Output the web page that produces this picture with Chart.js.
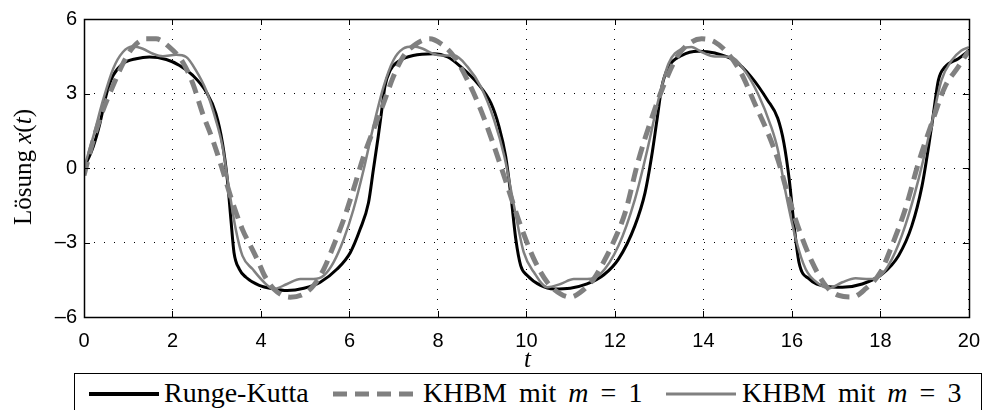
<!DOCTYPE html>
<html>
<head>
<meta charset="utf-8">
<script src="https://cdn.jsdelivr.net/npm/chart.js@4.4.1/dist/chart.umd.min.js"></script>
<style>
  html, body { margin: 0; padding: 0; background: #fff; overflow: hidden; }
  #wrap { position: relative; width: 992px; height: 410px; }
  #chart { position: absolute; left: 0; top: 0; }
  .serif { font-family: 'Liberation Serif', 'Times New Roman', serif; color: #000; white-space: nowrap; }
  #ytitle { position: absolute; left: 23px; top: 167px; font-size: 25px; transform: translate(-50%, -50%) rotate(-90deg); }
  #xtitle { position: absolute; left: 524px; top: 345px; font-size: 25px; font-style: italic; }
  #legend { position: absolute; left: 74px; top: 373px; width: 906px; height: 60px; border: 1.5px solid #000; background: #fff; }
  #legend svg { position: absolute; top: 12px; }
  #legend .lbl { position: absolute; top: 5px; font-size: 28px; line-height: 28px; }
  #legend .math { word-spacing: 5px; }
</style>
</head>
<body>
<div id="wrap">
  <canvas id="chart" width="992" height="410"></canvas>
  <div id="ytitle" class="serif">Lösung <i>x</i>(<i>t</i>)</div>
  <div id="xtitle" class="serif">t</div>
  <div id="legend" class="serif">
    <svg style="left:14px" width="70" height="16"><line x1="0" y1="8" x2="70" y2="8" stroke="#000" stroke-width="4"/></svg>
    <div class="lbl" style="left:89px">Runge-Kutta</div>
    <svg style="left:258px" width="86" height="16"><line x1="0" y1="8" x2="86" y2="8" stroke="#808080" stroke-width="5" stroke-dasharray="14 8"/></svg>
    <div class="lbl math" style="left:348px">KHBM mit <i>m</i> = 1</div>
    <svg style="left:591px" width="70" height="16"><line x1="0" y1="8" x2="70" y2="8" stroke="#808080" stroke-width="3"/></svg>
    <div class="lbl math" style="left:667px">KHBM mit <i>m</i> = 3</div>
  </div>
</div>
<script>
// tick values
const xTickValues = [0, 2, 4, 6, 8, 10, 12, 14, 16, 18, 20];
const yTickValues = [-6, -3, 0, 3, 6];

// Runge-Kutta reference solution
const rkTime = [0, 0.21, 0.36, 0.51, 0.66, 0.88, 1.18, 1.48, 1.86, 2.16, 2.46, 2.76, 2.98, 3.13, 3.24, 3.32, 3.39, 3.51, 3.66, 3.96,
  4.29, 4.59, 4.97, 5.34, 5.72, 6.02, 6.24, 6.43, 6.54, 6.65, 6.73, 6.80, 6.92, 7.14, 7.44, 7.89,
  8.22, 8.52, 8.90, 9.20, 9.38, 9.53, 9.65, 9.76, 9.87, 10.02, 10.32, 10.62, 10.99, 11.37, 11.75,
  12.08, 12.45, 12.68, 12.83, 12.95, 13.06, 13.21, 13.51, 13.88, 14.26, 14.70, 15.08, 15.45, 15.68,
  15.82, 15.94, 16.05, 16.16, 16.39, 16.76, 17.14, 17.59, 18.04, 18.41, 18.71, 18.94, 19.09, 19.20, 19.31, 19.46, 19.76, 20];
const rkValue = [0, 0.87, 1.8, 3.0, 3.73, 4.2, 4.4, 4.47, 4.37, 4.13, 3.73, 3.07, 2.2, 1.0, -0.47, -2.07, -3.4, -4.07, -4.4, -4.73,
  -4.87, -4.93, -4.84, -4.6, -4.07, -3.4, -2.47, -1.4, -0.07, 1.27, 2.33, 3.27, 3.93, 4.33, 4.53, 4.6,
  4.47, 4.07, 3.4, 2.6, 1.67, 0.47, -1.13, -2.87, -3.93, -4.33, -4.73, -4.87, -4.84, -4.67, -4.3,
  -3.67, -2.33, -1.0, 0.47, 1.93, 3.27, 4.07, 4.53, 4.7, 4.63, 4.33, 3.67, 2.73, 2.0,
  1.0, -0.47, -2.33, -3.8, -4.47, -4.76, -4.8, -4.67, -4.27, -3.53, -2.33, -0.73, 0.87, 2.2, 3.53, 4.07, 4.4, 4.73];

// harmonic balance, m = 1
const hb1Time = [0, 0.21, 0.43, 0.66, 0.88, 1.11, 1.41, 1.63, 1.93, 2.23, 2.46, 2.68, 2.91, 3.13, 3.36, 3.58, 3.81, 3.96,
  4.07, 4.29, 4.66, 4.97, 5.19, 5.42, 5.64, 5.87, 6.09, 6.32, 6.54, 6.77, 6.99, 7.21, 7.51, 7.81,
  8.07, 8.37, 8.67, 8.97, 9.27, 9.57, 9.87, 10.17, 10.47, 10.77, 10.99, 11.22, 11.52, 11.74,
  11.93, 12.23, 12.53, 12.83, 13.13, 13.43, 13.73, 13.96, 14.26, 14.56, 14.86, 15.16, 15.46, 15.69,
  15.94, 16.16, 16.46, 16.76, 17.06, 17.36, 17.66, 18.00, 18.26, 18.56, 18.86, 19.16, 19.46, 19.76, 20];
const hb1Value = [-0.3, 1.13, 2.33, 3.33, 4.2, 4.87, 5.2, 5.2, 4.87, 4.27, 3.4, 2.2, 1.13, -0.07, -1.4, -2.47, -3.3, -3.85,
  -4.3, -4.87, -5.2, -5.07, -4.73, -4.07, -3.13, -2.07, -0.87, 0.47, 1.53, 2.6, 3.67, 4.47, 5.0, 5.2,
  5.0, 4.47, 3.53, 2.33, 0.87, -0.73, -2.33, -3.67, -4.6, -5.07, -5.2, -5.0, -4.47, -3.8,
  -3.13, -1.8, 0.3, 2.0, 3.45, 4.55, 5.07, 5.2, 5.07, 4.6, 3.8, 2.6, 1.4, 0.3,
  -1.27, -2.47, -3.8, -4.73, -5.13, -5.2, -4.87, -4.2, -3.13, -1.67, 0.2, 1.8, 3.27, 4.07, 4.73];

// harmonic balance, m = 3
const hb3Time = [0, 0.21, 0.43, 0.66, 0.88, 1.11, 1.33, 1.56, 1.78, 2.08, 2.31, 2.53, 2.76, 2.98, 3.13, 3.28, 3.43, 3.58, 3.81,
  4.07, 4.29, 4.59, 4.89, 5.19, 5.42, 5.64, 5.87, 6.09, 6.32, 6.54, 6.77, 6.99, 7.21, 7.44, 7.66, 7.89,
  8.07, 8.37, 8.67, 8.97, 9.27, 9.50, 9.72, 9.94, 10.17, 10.47, 10.77, 11.07, 11.37, 11.67,
  12.08, 12.45, 12.75, 12.98, 13.21, 13.51, 13.73, 13.96, 14.26, 14.63, 14.93, 15.23, 15.53, 15.68,
  15.86, 16.09, 16.31, 16.61, 16.84, 17.14, 17.44, 17.74, 17.96, 18.26, 18.56, 18.86, 19.16, 19.38, 19.61, 19.83, 20];
const hb3Value = [0, 1.27, 2.73, 4.0, 4.67, 4.89, 4.8, 4.6, 4.5, 4.56, 4.47, 3.93, 3.13, 1.93, 0.87, -0.87, -2.47, -3.53, -4.07,
  -4.6, -4.87, -4.67, -4.47, -4.47, -4.33, -3.8, -2.87, -1.67, -0.07, 1.67, 3.27, 4.33, 4.8, 4.89, 4.8, 4.6,
  4.53, 4.53, 4.07, 3.27, 1.93, 0.47, -1.53, -3.4, -4.2, -4.8, -4.67, -4.47, -4.47, -4.27,
  -3.13, -1.27, 0.87, 2.73, 4.2, 4.8, 4.87, 4.67, 4.49, 4.47, 3.93, 3.0, 1.67, 0.75,
  -1.0, -2.87, -4.07, -4.67, -4.84, -4.6, -4.44, -4.47, -4.4, -3.67, -2.33, -0.47, 1.8, 3.53, 4.33, 4.73, 4.87];

const toPoints = (ts, vs) => ts.map((t, i) => ({ x: t, y: vs[i] }));

// Box around the axes plus inward tick marks on all four sides
const framePlugin = {
    id: 'frame',
    afterDraw(chart) {
        const { ctx, chartArea: a, scales } = chart;
        const len = 6;
        ctx.save();
        ctx.strokeStyle = '#000';
        ctx.lineWidth = 1;
        ctx.beginPath();
        scales.x.ticks.forEach(t => {
            const px = Math.round(scales.x.getPixelForValue(t.value)) + 0.5;
            ctx.moveTo(px, a.bottom); ctx.lineTo(px, a.bottom - len);
            ctx.moveTo(px, a.top); ctx.lineTo(px, a.top + len);
        });
        scales.y.ticks.forEach(t => {
            const py = Math.round(scales.y.getPixelForValue(t.value)) + 0.5;
            ctx.moveTo(a.left, py); ctx.lineTo(a.left + len, py);
            ctx.moveTo(a.right, py); ctx.lineTo(a.right - len, py);
        });
        ctx.stroke();
        ctx.lineWidth = 1.5;
        ctx.strokeRect(Math.round(a.left) + 0.5, Math.round(a.top) + 0.5,
            Math.round(a.right - a.left), Math.round(a.bottom - a.top));
        ctx.restore();
    }
};

const tickFont = { family: "'Liberation Sans', Arial, sans-serif", size: 20 };

new Chart(document.getElementById('chart'), {
    type: 'line',
    data: {
        datasets: [
            {
                label: 'Runge-Kutta',
                data: toPoints(rkTime, rkValue),
                borderColor: '#000',
                borderWidth: 3,
                order: 3
            },
            {
                label: 'KHBM mit m = 1',
                data: toPoints(hb1Time, hb1Value),
                borderColor: '#808080',
                borderWidth: 5,
                borderDash: [14, 8],
                order: 2
            },
            {
                label: 'KHBM mit m = 3',
                data: toPoints(hb3Time, hb3Value),
                borderColor: '#808080',
                borderWidth: 2.5,
                order: 1
            }
        ]
    },
    options: {
        responsive: false,
        animation: false,
        devicePixelRatio: 1,
        parsing: false,
        layout: { padding: { left: 0, right: 18, top: 17, bottom: 0 } },
        elements: {
            point: { radius: 0 },
            line: { tension: 0.4, cubicInterpolationMode: 'monotone', fill: false }
        },
        plugins: {
            legend: { display: false },
            tooltip: { enabled: false }
        },
        scales: {
            x: {
                type: 'linear',
                min: 0,
                max: 20,
                afterBuildTicks: scale => { scale.ticks = xTickValues.map(v => ({ value: v })); },
                afterFit: scale => { scale.height = 93; },
                ticks: {
                    font: tickFont,
                    color: '#000',
                    padding: 12,
                    maxRotation: 0,
                    callback: v => String(v)
                },
                grid: { color: '#000', lineWidth: 1, drawTicks: false },
                border: { display: false, dash: [1, 9] }
            },
            y: {
                min: -6,
                max: 6,
                afterBuildTicks: scale => { scale.ticks = yTickValues.map(v => ({ value: v })); },
                afterFit: scale => { scale.width = 84; },
                ticks: {
                    font: tickFont,
                    color: '#000',
                    padding: 7,
                    callback: v => (v < 0 ? '\u2013' + Math.abs(v) : String(v))
                },
                grid: { color: '#000', lineWidth: 1, drawTicks: false },
                border: { display: false, dash: [1, 9] }
            }
        }
    },
    plugins: [framePlugin]
});
</script>
</body>
</html>
